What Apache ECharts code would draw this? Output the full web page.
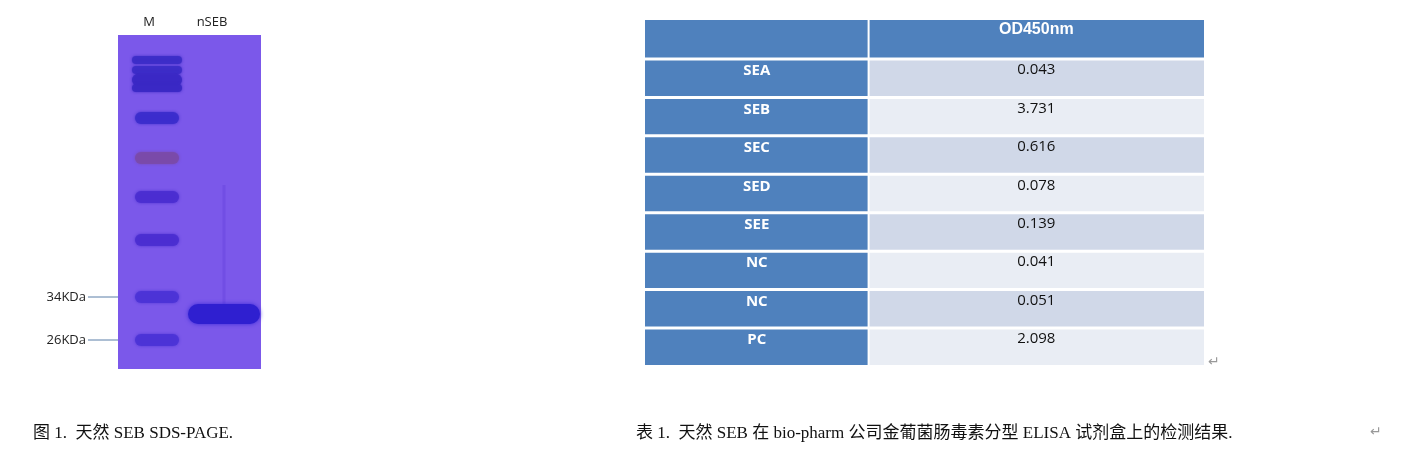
<!DOCTYPE html>
<html><head><meta charset="utf-8">
<script src="https://cdn.jsdelivr.net/npm/echarts@6/dist/echarts.min.js"></script>
<style>html,body{margin:0;padding:0;background:#fff}#c{width:1403px;height:457px}</style>
</head><body><div id="c"></div>
<script>
// Table data
var samples = ['SEA','SEB','SEC','SED','SEE','NC','NC','PC'];
var od450 = ['0.043','3.731','0.616','0.078','0.139','0.041','0.051','2.098'];
var tableHeader = ['', 'OD450nm'];
// Gel data: lane labels, marker band migration positions (gel units, 0 = top)
var lanes = ['M', 'nSEB'];
var markerBands = [25, 35, 45, 53, 83, 123, 162, 205, 262, 305];
var markerLabels = [{name:'34KDa', pos:262}, {name:'26KDa', pos:305}];
var sampleBands = [279];
var captions = ['图 1.  天然 SEB SDS-PAGE.', '表 1.  天然 SEB 在 bio-pharm 公司金葡菌肠毒素分型 ELISA 试剂盒上的检测结果.'];

var chart = echarts.init(document.getElementById('c'));

var rows = [{label: tableHeader[0], value: tableHeader[1], header: true}];
samples.forEach(function(s, i){ rows.push({label: s, value: od450[i], header: false}); });

var markerColors = ['#3c2cc8','#3c2cc8','#3a28c4','#3a28c4','#3b2ccc','#7a4aa8','#4a2ed0','#4a2ed0','#4b33d6','#4b33d6'];

chart.setOption({
  animation: false,
  grid: [
    {left: 118, top: 35, width: 143, height: 334},
    {left: 645, top: 20, width: 559, height: 346}
  ],
  xAxis: [
    {gridIndex: 0, type: 'value', min: 0, max: 143, show: false},
    {gridIndex: 1, type: 'value', min: 0, max: 1, show: false}
  ],
  yAxis: [
    {gridIndex: 0, type: 'value', min: 0, max: 334, inverse: true, show: false},
    {gridIndex: 1, type: 'value', min: 0, max: 9, inverse: true, show: false}
  ],
  graphic: [
    {type: 'rect', shape: {x: 118, y: 35, width: 143, height: 334}, style: {fill: '#7b58ea'}, z: 0},
    {type: 'text', x: 149, y: 16, style: {text: lanes[0], font: '13px "Open Sans"', fill: '#222', align: 'center'}},
    {type: 'text', x: 212, y: 16, style: {text: lanes[1], font: '13px "Open Sans"', fill: '#222', align: 'center'}},
    {type: 'text', x: 33, y: 425, style: {text: captions[0], font: '17px "Liberation Serif", "Noto Sans CJK SC"', fill: '#111'}},
    {type: 'text', x: 636, y: 425, style: {text: captions[1], font: '17px "Liberation Serif", "Noto Sans CJK SC"', fill: '#111'}},
    {type: 'text', x: 1370, y: 425, style: {text: '↵', font: '14px "DejaVu Sans"', fill: '#999'}},
    {type: 'text', x: 1208, y: 355, style: {text: '↵', font: '14px "DejaVu Sans"', fill: '#999'}}
  ],
  series: [
    {
      type: 'custom', xAxisIndex: 0, yAxisIndex: 0, z: 5,
      data: markerBands.map(function(p, i){ return [39, p, i]; }),
      renderItem: function(params, api){
        var c = api.coord([api.value(0), api.value(1)]);
        var i = api.value(2);
        var h = (i === 2) ? 13 : (i < 4 ? 8 : 12);
        var w = (i < 4) ? 50 : 44;
        return {type: 'rect', shape: {x: c[0]-w/2, y: c[1]-h/2, width: w, height: h, r: h/2},
          style: {fill: markerColors[i], opacity: 0.9, shadowBlur: 3, shadowColor: markerColors[i]}};
      }
    },
    {
      type: 'custom', xAxisIndex: 0, yAxisIndex: 0, z: 5,
      data: sampleBands.map(function(p){ return [106, p]; }),
      renderItem: function(params, api){
        var c = api.coord([api.value(0), api.value(1)]);
        var top = api.coord([api.value(0), 150]);
        return {type: 'group', children: [
          {type: 'rect', shape: {x: c[0]-1.5, y: top[1], width: 3, height: c[1]-top[1]}, style: {fill: '#6a48e0', opacity: 0.6}},
          {type: 'rect', shape: {x: c[0]-36, y: c[1]-10, width: 72, height: 20, r: 10},
            style: {fill: '#2f1fd0', shadowBlur: 4, shadowColor: '#3a2ad8'}}
        ]};
      }
    },
    {
      type: 'custom', xAxisIndex: 0, yAxisIndex: 0, z: 6,
      data: markerLabels.map(function(m){ return [0, m.pos, m.name]; }),
      renderItem: function(params, api){
        var c = api.coord([0, api.value(1)]);
        return {type: 'group', children: [
          {type: 'line', shape: {x1: c[0]-30, y1: c[1], x2: c[0], y2: c[1]}, style: {stroke: '#5b7fa8', lineWidth: 1}},
          {type: 'text', style: {x: c[0]-32, y: c[1], text: markerLabels[params.dataIndex].name, align: 'right', verticalAlign: 'middle', font: '13px "Open Sans"', fill: '#222'}}
        ]};
      }
    },
    {
      type: 'custom', xAxisIndex: 1, yAxisIndex: 1, z: 5,
      data: rows.map(function(r, i){ return [i]; }),
      renderItem: function(params, api){
        var i = api.value(0);
        var r = rows[i];
        var p0 = api.coord([0, i]), p1 = api.coord([0.4, i + 1]), p2 = api.coord([1, i + 1]);
        var topPad = (i === 0) ? 0 : 2;
        var y0 = p0[1] + topPad, h = p1[1] - p0[1] - topPad - 1;
        var valFill = r.header ? '#4f81bd' : (i % 2 === 1 ? '#d0d8e8' : '#e9edf4');
        return {type: 'group', children: [
          {type: 'rect', shape: {x: p0[0], y: y0, width: p1[0]-p0[0]-1, height: h}, style: {fill: '#4f81bd'}},
          {type: 'rect', shape: {x: p1[0]+1, y: y0, width: p2[0]-p1[0]-1, height: h}, style: {fill: valFill}},
          {type: 'text', style: {x: (p0[0]+p1[0])/2, y: y0 + 3, text: r.label, align: 'center', verticalAlign: 'top',
            font: 'bold 15px "Open Sans"', fill: '#fff'}},
          {type: 'text', style: {x: (p1[0]+p2[0])/2, y: y0 + 2, text: r.value, align: 'center', verticalAlign: 'top',
            font: (r.header ? 'bold 16px "Liberation Sans"' : '15px "Open Sans"'), fill: r.header ? '#fff' : '#111'}}
        ]};
      }
    }
  ]
});
</script></body></html>
